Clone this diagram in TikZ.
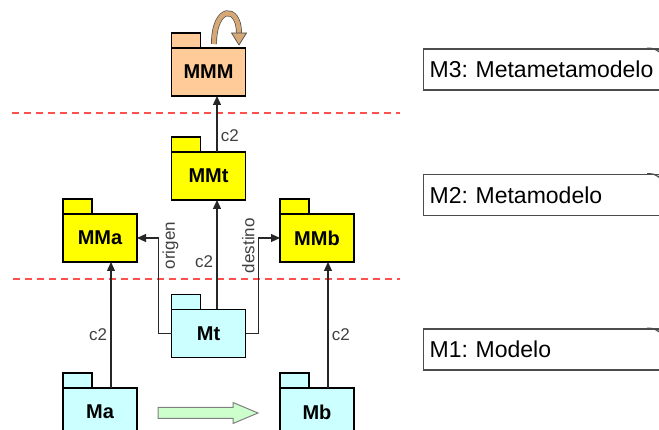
\documentclass[tikz,border=0pt]{standalone}
\usepackage{fontspec}
\setmainfont{Liberation Sans}
\frenchspacing
\usetikzlibrary{arrows.meta}
\definecolor{pkgyellow}{RGB}{255,255,0}
\definecolor{pkgcyan}{RGB}{204,255,255}
\definecolor{pkgpeach}{RGB}{255,204,153}
\definecolor{arrowgreen}{RGB}{204,255,204}
\definecolor{selftan}{RGB}{214,168,118}
\definecolor{levelred}{RGB}{255,80,80}

\begin{document}
\begin{tikzpicture}[x=1pt, y=1pt, >={Triangle[length=9pt,width=8pt]}, line width=1.2pt, node distance=217pt,
    pkg/.style={draw, fill=#1, line width=1.5pt, outer sep=0pt, inner sep=0pt,
      minimum width=74pt, minimum height=48pt, font=\fontsize{20}{24}\selectfont\bfseries,
      label={[pkgtab, fill=#1]north west:{}}}]
    \tikzstyle{pkgtab}=[draw, line width=1.5pt, outer sep=0pt, inner sep=0pt, minimum width=29pt, minimum height=15pt, anchor=south west]
    \tikzstyle{lbl}=[font=\fontsize{17}{20}\selectfont, text=black!75]
    \tikzstyle{levelbox}=[draw=black!70, line width=1.3pt, anchor=west, text width=240pt, inner xsep=6pt, minimum height=41pt, align=left, font=\fontsize{23}{27}\selectfont]
    \tikzstyle{levelline}=[draw=levelred, line width=1.5pt, dash pattern=on 7pt off 5pt]
    \tikzstyle{blockarrow}=[draw=black!50, line width=1pt, fill=arrowgreen]
    \tikzstyle{selfloop}=[draw=black!70, line width=0.7pt, double=selftan, double distance=4.5pt]
    \useasboundingbox (0,0) rectangle (659,430);
    \clip (0,0) rectangle (659,430);

    % level separators
    \draw[levelline] (12,317) -- (400,317);
    \draw[levelline] (13,151) -- (400,151);

    \node[pkg=pkgyellow] (MMa) at (100,192)   {MMa};
    \node[pkg=pkgyellow] (MMb) [right of=MMa] {MMb};
    \node[pkg=pkgyellow] (MMt) at (208.5,254) {MMt};
    \node[pkg=pkgpeach]  (MMM) [above of=MMt, node distance=104pt]   {MMM};
    \node[pkg=pkgcyan]   (Mt)  [below of=MMt, node distance=157.5pt] {Mt};
    \node[pkg=pkgcyan]   (Ma)  [below of=MMa, node distance=174pt]   {Ma};
    \node[pkg=pkgcyan]   (Mb)  [below of=MMb, node distance=174pt]   {Mb};

    \node[levelbox] (M3) at (423,360.5) {M3: Metametamodelo};
    \node[levelbox] (M2) at (423,235)   {M2: Metamodelo};
    \node[levelbox] (M1) at (423,80.5)  {M1: Modelo};

    \draw[->, black!85] ([xshift=8.5pt]MMt.north) -- node[lbl, right, pos=.3]{c2} ([xshift=8.5pt]MMM.south);
    \draw[->, black!85] ([xshift=8.5pt]Mt.north)  -- node[lbl, left, pos=.44]{c2} ([xshift=8.5pt]MMt.south);
    \draw[->, black!85] ([xshift=11pt]Ma.north)   -- node[lbl, left, pos=.42]{c2} ([xshift=11pt]MMa.south);
    \draw[->, black!85] ([xshift=11pt]Mb.north)   -- node[lbl, right, pos=.42]{c2} ([xshift=11pt]MMb.south);
    \draw[->, black!85] (Mt.west) -- ++(-13,0) |- node[lbl, rotate=90, below, pos=.46]{origen} (MMa.east);
    \draw[->, black!85] (Mt.east) -- ++(13,0)  |- node[lbl, rotate=90, above, pos=.46]{destino} (MMb.west);

    % transformation arrow
    \draw[blockarrow] ([shift={(21,4.5)}]Ma.east) -- ([shift={(96,4.5)}]Ma.east) -- ([shift={(96,9.5)}]Ma.east)
      -- ([shift={(121,-1)}]Ma.east) -- ([shift={(96,-11.5)}]Ma.east) -- ([shift={(96,-6.5)}]Ma.east)
      -- ([shift={(21,-6.5)}]Ma.east) -- cycle;

    % MMM conforms to itself
    \draw[selfloop] ([shift={(5.5,4)}]MMM.north) .. controls ([shift={(5.5,43)}]MMM.north) and ([shift={(30.5,43)}]MMM.north) .. ([shift={(30.5,15)}]MMM.north);
    \draw[draw=black!70, line width=0.7pt, fill=selftan] ([shift={(23,15)}]MMM.north) -- ([shift={(38,15)}]MMM.north) -- ([shift={(30.5,3)}]MMM.north) -- cycle;

    % curled corners of the level notes
    \foreach \lv in {M3,M2,M1}
      \draw[draw=black!70, line width=1.3pt] ([xshift=224pt]\lv.north west) .. controls ([xshift=231pt]\lv.north west) .. ([shift={(237pt,-4pt)}]\lv.north west);
\end{tikzpicture}
\end{document}
